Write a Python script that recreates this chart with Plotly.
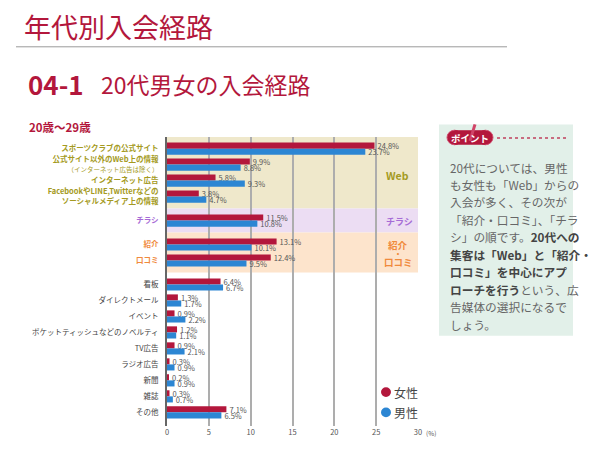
import plotly.graph_objects as go

# ---------------- data ----------------
categories = [
    "スポーツクラブの公式サイト",
    "公式サイト以外のWeb上の情報\n（インターネット広告は除く）",
    "インターネット広告",
    "FacebookやLINE,Twitterなどの\nソーシャルメディア上の情報",
    "チラシ",
    "紹介",
    "口コミ",
    "看板",
    "ダイレクトメール",
    "イベント",
    "ポケットティッシュなどのノベルティ",
    "TV広告",
    "ラジオ広告",
    "新聞",
    "雑誌",
    "その他",
]
sections = ["web", "web", "web", "web", "flyer", "ref", "ref",
            "other", "other", "other", "other", "other", "other", "other", "other", "other"]
female = [24.8, 9.9, 5.8, 3.8, 11.5, 13.1, 12.4, 6.4, 1.3, 0.9, 1.2, 0.9, 0.3, 0.2, 0.3, 7.1]
male = [23.7, 8.8, 9.3, 4.7, 10.8, 10.1, 9.5, 6.7, 1.7, 2.2, 1.1, 2.1, 0.9, 0.9, 0.7, 6.5]
x_ticks = [0, 5, 10, 15, 20, 25, 30]
series_names = ["女性", "男性"]

# ---------------- styling ----------------
FONT = "Noto Sans CJK JP"
RED = "#B3173C"
BLUE = "#2C86D3"
sec_color = {"web": "#A49A22", "flyer": "#A66BD6", "ref": "#F08A3C", "other": "#444444"}
band_color = {"web": "#EFE8CB", "flyer": "#ECDDF3", "ref": "#FDE4CC"}

# y positions: extra gap between sections
ypos = []
cur = 0.0
for i, s in enumerate(sections):
    if i > 0:
        cur += 1.5 if (s != sections[i - 1] or s == "flyer") else 1.0
    ypos.append(cur)

def tick_label(text, sec):
    col = sec_color[sec]
    lines = text.split("\n")
    out = []
    for ln in lines:
        if ln.startswith("（"):
            out.append(f"<span style='font-size:6.5px;color:{col}'>{ln}</span>")
        else:
            if sec == "other":
                out.append(f"<span style='color:{col}'>{ln}</span>")
            else:
                out.append(f"<span style='color:{col}'><b>{ln}</b></span>")
    return "<br>".join(out)

ticktext = [tick_label(c, s) for c, s in zip(categories, sections)]

fig = go.Figure()
for name, vals, col in [(series_names[0], female, RED), (series_names[1], male, BLUE)]:
    fig.add_trace(go.Bar(
        y=ypos, x=vals, orientation="h", name=name,
        marker=dict(color=col, line=dict(width=0)),
        text=[f"{v}%" for v in vals], textposition="outside",
        constraintext="none", cliponaxis=False,
        textfont=dict(size=7.5, color="#555555", family=FONT),
        outsidetextfont=dict(size=7.5, color="#555555", family=FONT),
        hoverinfo="skip",
    ))

# plot area in pixels
L, T, W, H = 167, 137, 251, 298
def px(x):
    return (x - L) / W
def py(y):
    return (T + H - y) / H

unit = 16.48
y_top = -(149 - T) / unit
y_bot = (T + H - 149) / unit

shapes = []
# background bands per section
bounds = {}
for i, s in enumerate(sections):
    if s == "other":
        continue
    if s not in bounds:
        bounds[s] = [ypos[i], ypos[i]]
    bounds[s][1] = ypos[i]
for s, (a, b) in bounds.items():
    y0 = y_top if s == "web" else a - 0.75
    y1 = b + 0.75
    shapes.append(dict(type="rect", xref="x", yref="y", x0=0, x1=30, y0=y0, y1=y1,
                       fillcolor=band_color[s], line=dict(width=0), layer="below"))

# header line
shapes.append(dict(type="line", xref="paper", yref="paper", x0=px(16), x1=px(507), y0=py(44), y1=py(44),
                   line=dict(color="#9A9A9A", width=1)))
# point box
shapes.append(dict(type="rect", xref="paper", yref="paper", x0=px(439), x1=px(573), y0=py(342), y1=py(124),
                   fillcolor="#E2F0E9", line=dict(width=0)))
# badge pill
for cx in (454.5, 485.5):
    shapes.append(dict(type="circle", xref="paper", yref="paper", x0=px(cx - 7.5), x1=px(cx + 7.5),
                       y0=py(145), y1=py(130), fillcolor=RED, line=dict(color="#D05070", width=1)))
shapes.append(dict(type="rect", xref="paper", yref="paper", x0=px(454.5), x1=px(485.5), y0=py(145), y1=py(130),
                   fillcolor=RED, line=dict(width=0)))
# pin
shapes.append(dict(type="line", xref="paper", yref="paper", x0=px(470), x1=px(475), y0=py(141), y1=py(124),
                   line=dict(color="#D04468", width=3)))
# dotted line
shapes.append(dict(type="line", xref="paper", yref="paper", x0=px(497), x1=px(568), y0=py(138), y1=py(138),
                   line=dict(color="#C0405E", width=1.5, dash="dot")))
# legend circles
for cy, col in ((400, RED), (421, BLUE)):
    shapes.append(dict(type="circle", xref="paper", yref="paper", x0=px(381), x1=px(391),
                       y0=py(cy + 5), y1=py(cy - 5), fillcolor=col, line=dict(width=0)))

ann = []
def A(x, y, text, size, color, xanchor="left", bold=False):
    t = f"<b>{text}</b>" if bold else text
    ann.append(dict(xref="paper", yref="paper", x=px(x), y=py(y), text=t, showarrow=False,
                    xanchor=xanchor, yanchor="middle", font=dict(size=size, color=color, family=FONT)))

A(22, 23, "年代別入会経路", 27, RED)
A(26, 82, "04-1", 26, RED, bold=True)
A(99, 82, "20代男女の入会経路", 23, RED)
A(27, 127, "20歳～29歳", 11.5, RED, bold=True)
A(470, 138, "ポイント", 9.5, "white", xanchor="center", bold=True)

# section labels
A(397.5, 177, "Web", 10.5, sec_color["web"], xanchor="center", bold=True)
A(399, 224, "チラシ", 9, sec_color["flyer"], xanchor="center", bold=True)
A(398, 248.5, "紹介", 9.5, sec_color["ref"], xanchor="center", bold=True)
A(398, 257, "・", 8, sec_color["ref"], xanchor="center", bold=True)
A(398, 265.5, "口コミ", 9.5, sec_color["ref"], xanchor="center", bold=True)

# legend text
A(392, 400, series_names[0], 12, "#444444")
A(392, 421, series_names[1], 12, "#444444")
# axis unit
A(424, 442, "(%)", 6.5, "#555555")

# point box text
REG = "#666666"
BLD = "#444444"
box_lines = [
    [("20代については、男性", False)],
    [("も女性も「Web」からの", False)],
    [("入会が多く、その次が", False)],
    [("「紹介・口コミ」、「チラ", False)],
    [("シ」の順です。", False), ("20代への", True)],
    [("集客は「Web」と「紹介・", True)],
    [("口コミ」を中心にアプ", True)],
    [("ローチを行う", True), ("という、広", False)],
    [("告媒体の選択になるで", False)],
    [("しょう。", False)],
]
for i, parts in enumerate(box_lines):
    txt = "".join(
        f"<span style='color:{BLD}'><b>{p}</b></span>" if b else f"<span style='color:{REG}'>{p}</span>"
        for p, b in parts)
    ann.append(dict(xref="paper", yref="paper", x=px(448), y=py(168 + 18 * i), text=txt, showarrow=False,
                    xanchor="left", yanchor="middle", font=dict(size=11.7, color=REG, family=FONT)))

fig.update_layout(
    width=600, height=449,
    margin=dict(l=L, r=600 - L - W, t=T, b=449 - T - H),
    paper_bgcolor="white", plot_bgcolor="white",
    barmode="group", bargap=0.24, bargroupgap=0.0,
    showlegend=False,
    font=dict(family=FONT, size=8, color="#444444"),
    shapes=shapes, annotations=ann,
    xaxis=dict(range=[0, 30], tickvals=x_ticks, ticktext=[str(v) for v in x_ticks],
               showgrid=True, gridcolor="#ADADAD", gridwidth=1.5, zeroline=False,
               showline=False, ticks="", tickfont=dict(size=7.5, color="#555555", family=FONT),
               fixedrange=True),
    yaxis=dict(range=[y_bot, y_top], tickvals=ypos, ticktext=ticktext,
               showgrid=False, zeroline=False, showline=True, linecolor="#666666", linewidth=2,
               ticks="", ticklabelstandoff=5, tickfont=dict(size=7.5, color="#444444", family=FONT),
               fixedrange=True),
)

fig.write_html("out.html", config={"displayModeBar": False},
               post_script="document.body.style.margin='0';document.body.style.overflow='hidden';")
